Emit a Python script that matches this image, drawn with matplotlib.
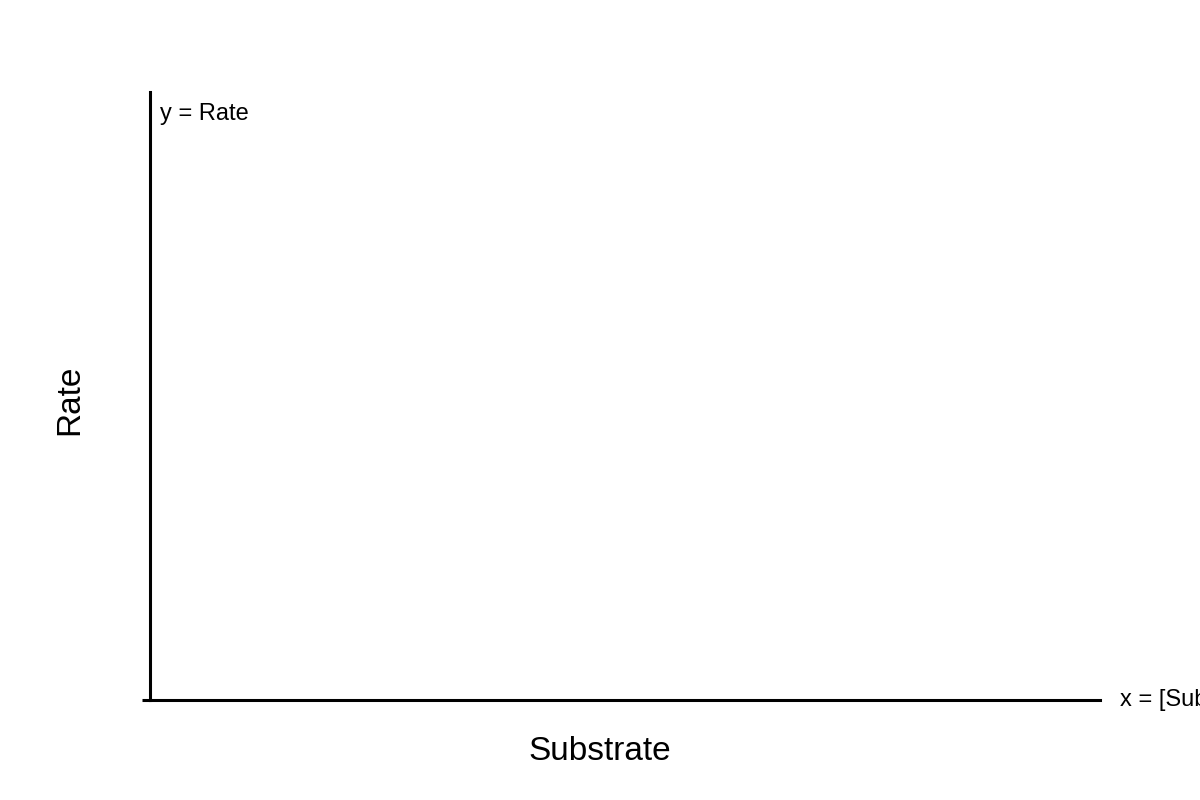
import matplotlib
matplotlib.use("Agg")
import matplotlib.pyplot as plt

# empty axes template: no measurements plotted yet
substrate = []
rate = []

x_label = "Substrate"
y_label = "Rate"
x_axis_note = "x = [Substrate]"
y_axis_note = "y = Rate"

plt.rcParams["font.family"] = ["Liberation Sans", "DejaVu Sans"]

fig = plt.figure(figsize=(12, 8), dpi=100)
ax = fig.add_axes([150 / 1200, 100 / 800, 950 / 1200, 608 / 800])

ax.plot(substrate, rate, color="black")
ax.set_xlim(0, 1)
ax.set_ylim(0, 1)

# only left and bottom spines, thick black
for side in ["top", "right"]:
    ax.spines[side].set_visible(False)
for side in ["left", "bottom"]:
    ax.spines[side].set_linewidth(2.2)
    ax.spines[side].set_color("black")

ax.set_xticks([])
ax.set_yticks([0])
ax.set_yticklabels([""])
ax.tick_params(axis="y", length=6, width=2.2, color="black")

ax.text(10 / 950, 1 - 22 / 608, y_axis_note, transform=ax.transAxes,
        fontsize=17, va="center", ha="left")
# the reference cuts this note off at the right edge
ax.text(1 + 20 / 950, 0, x_axis_note, transform=ax.transAxes,
        fontsize=17, va="center", ha="left", clip_on=False)

fig.text(0.5, 1 - 751 / 800, x_label, fontsize=24, ha="center", va="center")
fig.text(70 / 1200, 0.5, y_label, fontsize=24, ha="center", va="center",
         rotation=90)

fig.savefig("out.png", dpi=100)
plt.close(fig)
